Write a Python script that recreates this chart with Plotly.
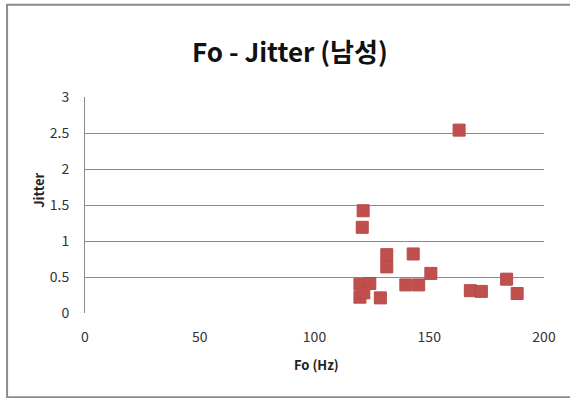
import plotly.graph_objects as go

fo_hz = [121.2, 120.8, 131.5, 131.5, 143.0, 150.7, 139.8, 145.4, 128.7,
         119.8, 119.8, 124.1, 121.5, 163.0, 167.9, 172.7, 183.7, 188.3]
jitter = [1.42, 1.19, 0.81, 0.64, 0.82, 0.55, 0.39, 0.39, 0.21,
          0.40, 0.22, 0.41, 0.28, 2.54, 0.31, 0.30, 0.47, 0.27]
x_ticks = [0, 50, 100, 150, 200]
y_ticks = [0, 0.5, 1, 1.5, 2, 2.5, 3]
y_tick_labels = ["0", "0.5", "1", "1.5", "2", "2.5", "3"]

FONT = "Noto Sans CJK KR"
L, R, T, B = 84.5, 26, 96.7, 85.3
W, H = 570, 398
pw, ph = W - L - R, H - T - B

def px(x):
    return (x - L) / pw

def py(y):
    return (H - B - y) / ph

fig = go.Figure(go.Scatter(
    x=fo_hz, y=jitter, mode="markers",
    marker=dict(symbol="square", size=12, color="#C0504D",
                line=dict(color="#B84A47", width=1)),
    showlegend=False,
))

fig.update_layout(
    width=W, height=H,
    margin=dict(l=L, r=R, t=T, b=B),
    paper_bgcolor="white", plot_bgcolor="white",
    font=dict(family=FONT, size=13, color="#333333"),
    xaxis=dict(range=[0, 200], tickvals=x_ticks, showgrid=False,
               showline=False, zeroline=False, ticks="",
               ticklabelstandoff=14,
               tickfont=dict(size=14, color="#333333")),
    yaxis=dict(range=[0, 3], tickvals=y_ticks, ticktext=y_tick_labels,
               showgrid=True, gridcolor="#8C8C8C", gridwidth=1,
               showline=True, linecolor="#8C8C8C", linewidth=1,
               zeroline=False, ticks="", ticklabelstandoff=12,
               tickfont=dict(size=14, color="#333333")),
    annotations=[
        dict(text="<b>Fo - Jitter (남성)</b>", xref="paper", yref="paper",
             x=px(290), y=py(50), xanchor="center", yanchor="middle",
             showarrow=False, font=dict(family=FONT, size=26, color="#111111")),
        dict(text="<b>Fo (Hz)</b>", xref="paper", yref="paper",
             x=px(316), y=py(364), xanchor="center", yanchor="middle",
             showarrow=False, font=dict(family=FONT, size=13, color="#222222")),
        dict(text="<b>Jitter</b>", xref="paper", yref="paper",
             x=px(38), y=py(190), xanchor="center", yanchor="middle",
             textangle=-90, showarrow=False,
             font=dict(family=FONT, size=13, color="#222222")),
    ],
    shapes=[dict(type="rect", xref="paper", yref="paper",
                 x0=px(6.5), x1=px(580), y0=py(397), y1=py(4.5),
                 line=dict(color="#8A8A8A", width=2), layer="below")],
)

fig.write_html("out.html")
